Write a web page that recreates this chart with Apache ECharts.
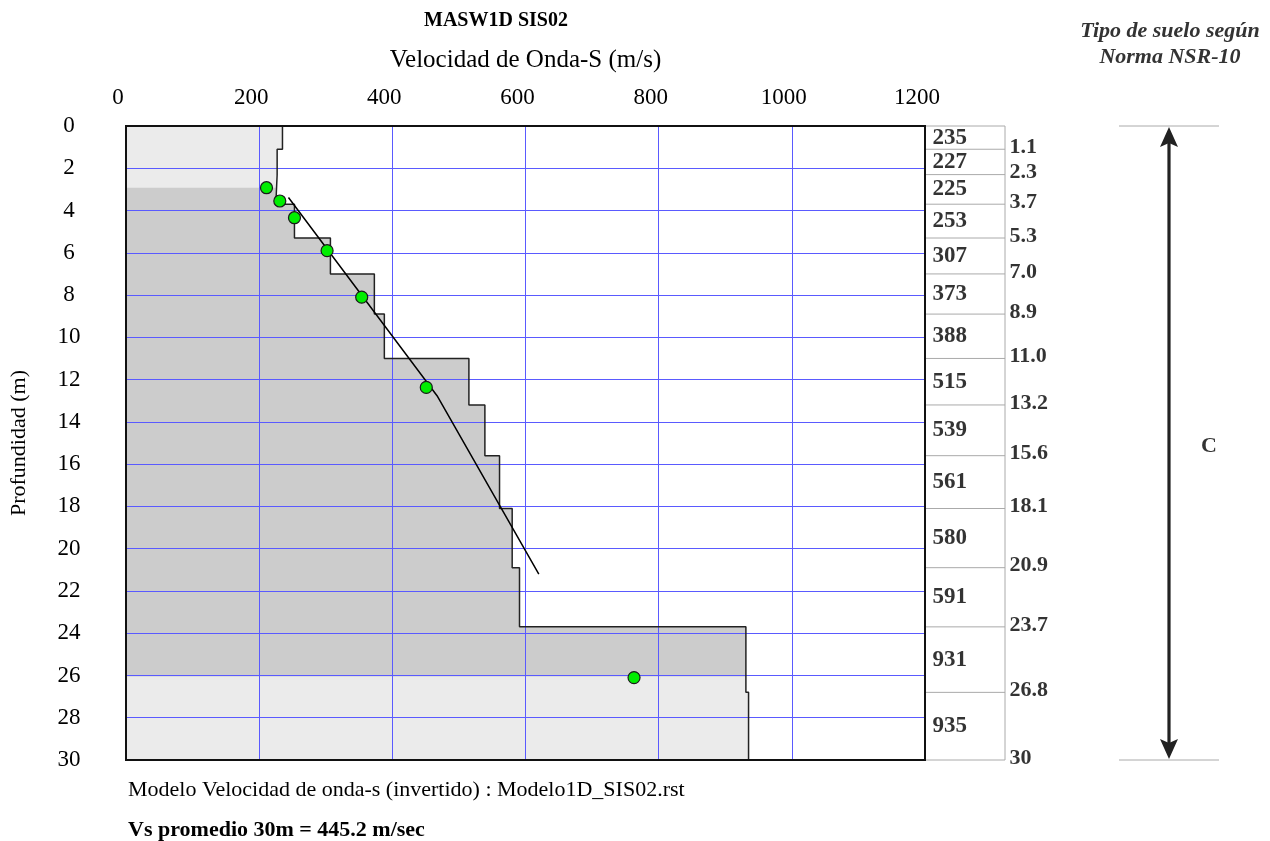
<!DOCTYPE html>
<html><head><meta charset="utf-8">
<script src="https://cdn.jsdelivr.net/npm/echarts@6/dist/echarts.min.js"></script>
<style>html,body{margin:0;padding:0;background:#fff}#c{width:1270px;height:841px}</style>
</head><body><div id="c"></div>
<script>
// ---- data ----
const layerVelocity = [235, 227, 225, 253, 307, 373, 388, 515, 539, 561, 580, 591, 931, 935];
const layerBottom   = [1.1, 2.3, 3.7, 5.3, 7.0, 8.9, 11.0, 13.2, 15.6, 18.1, 20.9, 23.7, 26.8, 30];
const depthLabels   = ['1.1','2.3','3.7','5.3','7.0','8.9','11.0','13.2','15.6','18.1','20.9','23.7','26.8','30'];
const dispersionVelocity = [211, 231, 253, 302, 354, 451, 763];
const dispersionDepth    = [2.92, 3.55, 4.34, 5.9, 8.1, 12.37, 26.1];
const trendVelocity = [244, 468, 620];
const trendDepth    = [3.38, 12.8, 21.2];
const investigatedTop = 2.92, investigatedBottom = 26.05;
const soilClass = 'C', soilTop = 0, soilBottom = 30;

const layerTop = [0].concat(layerBottom.slice(0, -1));
const SERIF = '"Liberation Serif", "Times New Roman", serif';
const LIGHT = '#ebebeb', DARK = '#cccccc', GRIDBLUE = '#5a5aff';

const outline = [];
layerVelocity.forEach((v, i) => { outline.push([v, layerTop[i]]); outline.push([v, layerBottom[i]]); });

const chart = echarts.init(document.getElementById('c'), null, {renderer: 'canvas'});
chart.setOption({
  animation: false,
  backgroundColor: '#fff',
  grid: [
    {left: 125, top: 126, width: 800, height: 634, show: true, borderColor: '#111', borderWidth: 2, backgroundColor: 'transparent', z: 7},
    {left: 925, top: 126, width: 80, height: 634, show: true, borderColor: '#aaa', borderWidth: 1, backgroundColor: 'transparent'},
    {left: 1119, top: 126, width: 100, height: 634, show: false}
  ],
  xAxis: [
    {gridIndex: 0, type: 'value', position: 'top', min: 0, max: 1200, interval: 200, z: 2,
     name: 'Velocidad de Onda-S (m/s)', nameLocation: 'middle', nameGap: 53,
     nameTextStyle: {fontFamily: SERIF, fontSize: 25, color: '#000'},
     axisLine: {show: false}, axisTick: {show: false},
     axisLabel: {fontFamily: SERIF, fontSize: 23, color: '#000', margin: 17, padding: [0, 16, 0, 0], formatter: v => String(v)},
     splitLine: {show: true, showMinLine: false, showMaxLine: false, lineStyle: {color: GRIDBLUE, width: 1}}},
    {gridIndex: 1, type: 'value', min: 0, max: 1, show: false},
    {gridIndex: 2, type: 'value', min: 0, max: 1, show: false}
  ],
  yAxis: [
    {gridIndex: 0, type: 'value', inverse: true, min: 0, max: 30, interval: 2, z: 2,
     name: 'Profundidad (m)', nameLocation: 'middle', nameGap: 96, nameRotate: 90,
     nameTextStyle: {fontFamily: SERIF, fontSize: 22, color: '#000'},
     axisLine: {show: false}, axisTick: {show: false},
     axisLabel: {fontFamily: SERIF, fontSize: 23, color: '#000', margin: 57, align: 'center', formatter: v => String(v)},
     splitLine: {show: true, showMinLine: false, showMaxLine: false, lineStyle: {color: GRIDBLUE, width: 1}}},
    {gridIndex: 1, type: 'value', inverse: true, min: 0, max: 30, show: false},
    {gridIndex: 2, type: 'value', inverse: true, min: 0, max: 30, show: false}
  ],
  series: [
    { // shaded layers
      type: 'custom', xAxisIndex: 0, yAxisIndex: 0, z: 1, silent: true,
      data: layerVelocity.map((v, i) => [v, layerTop[i], layerBottom[i]]),
      encode: {x: 0, y: [1, 2]},
      renderItem(params, api) {
        const v = api.value(0), t = api.value(1), b = api.value(2);
        const children = [];
        const seg = (a, c, color) => {
          if (c <= a) return;
          const p0 = api.coord([0, a]), p1 = api.coord([v, c]);
          children.push({type: 'rect', shape: {x: p0[0], y: p0[1], width: p1[0] - p0[0], height: p1[1] - p0[1] + 0.7}, style: {fill: color}});
        };
        seg(t, Math.min(b, investigatedTop), LIGHT);
        seg(Math.max(t, investigatedTop), Math.min(b, investigatedBottom), DARK);
        seg(Math.max(t, investigatedBottom), b, LIGHT);
        return {type: 'group', children};
      }
    },
    { // step outline
      type: 'line', xAxisIndex: 0, yAxisIndex: 0, z: 4, symbol: 'none', silent: true,
      data: outline, lineStyle: {color: '#222', width: 1.5}
    },
    { // trend line
      type: 'line', xAxisIndex: 0, yAxisIndex: 0, z: 5, symbol: 'none', silent: true,
      data: trendVelocity.map((v, i) => [v, trendDepth[i]]), lineStyle: {color: '#000', width: 1.5}
    },
    { // dispersion points
      type: 'scatter', xAxisIndex: 0, yAxisIndex: 0, z: 6, symbol: 'circle', symbolSize: 12,
      data: dispersionVelocity.map((v, i) => [v, dispersionDepth[i]]),
      itemStyle: {color: '#00ee00', borderColor: '#1a1a1a', borderWidth: 1.2, opacity: 1}
    },
    { // table boundary lines
      type: 'custom', xAxisIndex: 1, yAxisIndex: 1, silent: true,
      data: layerBottom.slice(0, -1).map(d => [0, d]),
      encode: {x: 0, y: 1},
      renderItem(params, api) {
        const d = api.value(1);
        const p0 = api.coord([0, d]), p1 = api.coord([1, d]);
        return {type: 'line', shape: {x1: p0[0], y1: p0[1], x2: p1[0], y2: p1[1]}, style: {stroke: '#aaa', lineWidth: 1}};
      }
    },
    { // velocity labels
      type: 'scatter', xAxisIndex: 1, yAxisIndex: 1, symbolSize: 1, silent: true,
      itemStyle: {color: 'rgba(0,0,0,0)'},
      data: layerVelocity.map((v, i) => [0, (layerTop[i] + layerBottom[i]) / 2, v]),
      label: {show: true, position: 'right', distance: 7, formatter: p => String(p.value[2]),
              fontFamily: SERIF, fontSize: 23, fontWeight: 'bold', color: '#000'}
    },
    { // depth labels
      type: 'scatter', xAxisIndex: 1, yAxisIndex: 1, symbolSize: 1, silent: true,
      itemStyle: {color: 'rgba(0,0,0,0)'},
      data: layerBottom.map((d, i) => [1, d, depthLabels[i]]),
      label: {show: true, position: 'right', distance: 4, offset: [0, -2], formatter: p => p.value[2],
              fontFamily: SERIF, fontSize: 22, fontWeight: 'bold', color: '#000'}
    },
    { // soil class limits
      type: 'custom', xAxisIndex: 2, yAxisIndex: 2, silent: true,
      data: [[0, soilTop], [0, soilBottom]],
      encode: {x: 0, y: 1},
      renderItem(params, api) {
        const d = api.value(1);
        const p0 = api.coord([0, d]), p1 = api.coord([1, d]);
        return {type: 'line', shape: {x1: p0[0], y1: p0[1], x2: p1[0], y2: p1[1]}, style: {stroke: '#aaa', lineWidth: 1}};
      }
    },
    { // soil class double arrow
      type: 'custom', xAxisIndex: 2, yAxisIndex: 2, silent: true,
      data: [[0.5, soilTop, soilBottom]],
      encode: {x: 0, y: [1, 2]},
      renderItem(params, api) {
        const p0 = api.coord([api.value(0), api.value(1)]);
        const p1 = api.coord([api.value(0), api.value(2)]);
        const x = p0[0], t = p0[1] + 1, b = p1[1] - 1, w = 9, h = 20, n = 16;
        return {type: 'group', children: [
          {type: 'line', shape: {x1: x, y1: t + n, x2: x, y2: b - n}, style: {stroke: '#222', lineWidth: 3.2}},
          {type: 'polygon', shape: {points: [[x, t], [x - w, t + h], [x, t + n], [x + w, t + h]]}, style: {fill: '#222'}},
          {type: 'polygon', shape: {points: [[x, b], [x - w, b - h], [x, b - n], [x + w, b - h]]}, style: {fill: '#222'}}
        ]};
      }
    },
    { // soil class label
      type: 'scatter', xAxisIndex: 2, yAxisIndex: 2, symbolSize: 1, silent: true,
      itemStyle: {color: 'rgba(0,0,0,0)'},
      data: [[0.9, (soilTop + soilBottom) / 2, soilClass]],
      label: {show: true, position: 'inside', formatter: p => p.value[2], offset: [0, 3],
              fontFamily: SERIF, fontSize: 22, fontWeight: 'bold', color: '#000'}
    }
  ],
  graphic: [
    {type: 'text', x: 496, y: 21, style: {text: 'MASW1D SIS02', fontFamily: SERIF, fontSize: 20, fontWeight: 'bold', fill: '#000', textAlign: 'center', textVerticalAlign: 'middle'}},
    {type: 'text', x: 1170, y: 44, style: {text: 'Tipo de suelo según\nNorma NSR-10', fontFamily: SERIF, fontSize: 22, fontWeight: 'bold', fontStyle: 'italic', fill: '#333', textAlign: 'center', textVerticalAlign: 'middle', lineHeight: 26}},
    {type: 'text', x: 128, y: 790, style: {text: 'Modelo Velocidad de onda-s (invertido) : Modelo1D_SIS02.rst', fontFamily: SERIF, fontSize: 22, fill: '#000', textAlign: 'left', textVerticalAlign: 'middle'}},
    {type: 'text', x: 128, y: 830, style: {text: 'Vs promedio 30m = 445.2 m/sec', fontFamily: SERIF, fontSize: 22, fontWeight: 'bold', fill: '#000', textAlign: 'left', textVerticalAlign: 'middle'}}
  ]
});
</script></body></html>
